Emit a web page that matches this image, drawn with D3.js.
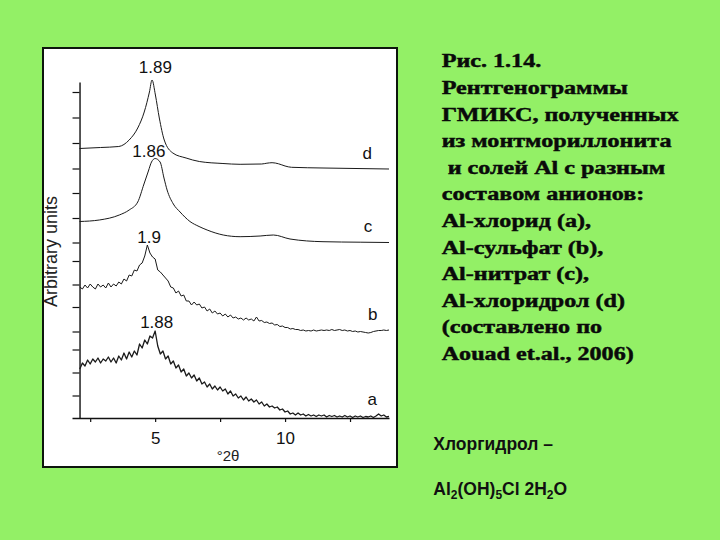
<!DOCTYPE html>
<html><head><meta charset="utf-8">
<script src="https://cdn.jsdelivr.net/npm/d3@7"></script>
<style>html,body{margin:0;padding:0;background:#93F066;} svg{display:block}</style>
</head><body>
<svg id="c" width="720" height="540"></svg>
<script>
// ---- data ----
const scanTheta = [
 2.1,2.2,2.3,2.4,2.5,2.6,2.7,2.8,2.9,3.0,
 3.1,3.2,3.3,3.4,3.5,3.6,3.7,3.8,3.9,4.0,
 4.1,4.2,4.3,4.4,4.5,4.6,4.7,4.8,4.9,5.0,
 5.1,5.2,5.3,5.4,5.5,5.6,5.7,5.8,5.9,6.0,
 6.1,6.2,6.3,6.4,6.5,6.6,6.7,6.8,6.9,7.0,
 7.1,7.2,7.3,7.4,7.5,7.6,7.7,7.8,7.9,8.0,
 8.1,8.2,8.3,8.4,8.5,8.6,8.7,8.8,8.9,9.0,
 9.1,9.2,9.3,9.4,9.5,9.6,9.7,9.8,9.9,10.0,
 10.1,10.2,10.3,10.4,10.5,10.6,10.7,10.8,10.9,11.0,
 11.1,11.2,11.3,11.4,11.5,11.6,11.7,11.8,11.9,12.0,
 12.1,12.2,12.3,12.4,12.5,12.6,12.7,12.8,12.9,13.0,
 13.1,13.2,13.3,13.4,13.5,13.6,13.7,13.8,13.9,14.0];
const seriesA = [
 49,55,52,58,54,59,56,60,55,59,
 57,61,56,60,55,62,58,65,59,66,
 61,67,63,74,70,78,74,82,80,87,
 72,64,67,59,62,54,57,50,53,46,
 49,42,45,40,43,37,40,34,36,31,
 34,29,32,28,31,27,29,24,27,22,
 24,20,22,18,21,17,19,16,18,14,
 16,12,14,11,12,10,11,8,9,6,
 7,4,5,3,5,3,4,2,3.5,2,
 3,1.5,3,2,3,1,2.5,1.5,2.5,1,
 2,1,2.5,1,2,0.5,2,1,2,0.5,
 1.5,1,2,0.5,2,4,2,3,1,1.5];
const seriesB = [
 131,129,133,130,134,131,129,134,131,133,
 130,135,131,134,132,136,134,139,137,143,
 142,148,147,153,155,162,173,165,161,159,
 148,146,143,140,137,131,130,125,127,122,
 123,117,117,113,116,113,114,110,111,107,
 109,105,107,104,105,102,104,101,103,100,
 101,99,100,98,100,98,99,97,101,97,
 97.5,95.5,96,94.5,95,93,93.5,91.5,92,90.5,
 90.5,89,89.5,88.5,88.5,87.5,88,87,87.5,87,
 88,87,87.5,88,87.5,88,87.5,88.5,87.5,88,
 88.5,87.5,88,87,87.5,86.5,87,86,86.5,86,
 85.5,85,85.5,86.5,87,87.5,87.5,88,87.5,88];
const thetaC = [2.09,2.85,3.62,4.0,4.33,4.57,4.74,4.86,5.0,5.19,5.34,5.46,5.7,5.96,6.34,6.69,7.0,7.62,8.27,9.04,9.55,10.19,11.46,12.89,14.0];
const seriesC = [196.5,198,203,208,216,234,247,256,259.5,256,240,228,214,206,196.5,191.5,188,183,181.3,182,183,179,176.3,175.8,175.5];
const thetaD = [2.09,2.9,3.6,4.0,4.33,4.58,4.78,4.88,5.01,5.16,5.35,5.68,6.19,6.7,7.61,8.27,9.1,9.3,9.5,9.75,10.0,10.25,11.46,14.0];
const seriesD = [269.5,270.5,271.5,278,290,306,326,338,323,300,278,265,260,256.5,254.5,253.7,254,254.8,255.3,254.2,252,250.7,250,249];

const curveLabels = ["a","b","c","d"];
const curveLabelTheta = [13.35,13.37,13.19,13.16];
const curveLabelValue = [13,98,186.3,259];
const peakLabels = ["1.88","1.9","1.86","1.89"];
const peakLabelTheta = [5.06,4.77,4.76,5.01];
const peakLabelValue = [89.7,174.7,260.7,344.7];
const xTickValues = [2.5,5,7.5,10,12.5];
const xTickLabels = ["","5","","10",""];
const yTickValues = [326,300.5,275,249.5,225,200,175.5,157,133.5,111,86.5,68.5,45.5,22.5];
const xTitle = "°2θ";
const yTitle = "Arbitrary units";
const captionLines = [
 "Рис. 1.14.",
 "Рентгенограммы",
 "ГМИКС, полученных",
 "из монтмориллонита",
 " и солей Al с разным",
 "составом анионов:",
 "Al-хлорид (а),",
 "Al-сульфат (b),",
 "Al-нитрат (с),",
 "Al-хлоридрол (d)",
 "(составлено по",
 "Aouad et.al., 2006)"];
const noteLine = "Хлоргидрол –";

// ---- drawing ----
const svg = d3.select("#c");
svg.append("rect").attr("width",720).attr("height",540).attr("fill","#93F066");
svg.append("rect").attr("x",43).attr("y",48).attr("width",354).attr("height",419)
  .attr("fill","#fff").attr("stroke","#0d160d").attr("stroke-width",2);

const x = d3.scaleLinear().domain([1.8,14]).range([72,389]);
const y = d3.scaleLinear().domain([0,336]).range([418,82]);
const yAxisTheta = 2.09;

const gx = svg.append("g").attr("transform",`translate(0,${y(0)})`)
  .call(d3.axisBottom(x).tickValues(xTickValues).tickSize(4).tickSizeOuter(0)
    .tickFormat((d,i)=>xTickLabels[i]));
gx.select(".domain").attr("stroke","#111").attr("stroke-width",1.4);
gx.selectAll(".tick line").attr("stroke","#111").attr("stroke-width",1.2);
gx.selectAll(".tick text").attr("y",26).attr("dy",0).attr("font-family","Liberation Sans, Arial, sans-serif")
  .attr("font-size",17).attr("fill","#111");

const gy = svg.append("g").attr("transform",`translate(${x(yAxisTheta)},0)`)
  .call(d3.axisLeft(y).tickValues(yTickValues).tickSize(7).tickSizeOuter(0).tickFormat(""));
gy.select(".domain").attr("stroke","#111").attr("stroke-width",1.4);
gy.selectAll(".tick line").attr("stroke","#111").attr("stroke-width",1.2);

svg.append("text").attr("x",228).attr("y",461).attr("text-anchor","middle")
  .attr("font-family","Liberation Sans, Arial, sans-serif").attr("font-size",15).attr("fill","#222").text(xTitle);
svg.append("text").attr("transform","translate(57,251.5) rotate(-90)").attr("text-anchor","middle")
  .attr("font-family","Liberation Sans, Arial, sans-serif").attr("font-size",18).attr("fill","#222").text(yTitle);

const line = d3.line().x(d=>x(d[0])).y(d=>y(d[1]));
const smooth = d3.line().x(d=>x(d[0])).y(d=>y(d[1])).curve(d3.curveMonotoneX);
const series = [
  {pts: scanTheta.map((t,i)=>[t,seriesA[i]]), gen: line, w:1.3},
  {pts: scanTheta.map((t,i)=>[t,seriesB[i]]), gen: line, w:1},
  {pts: thetaC.map((t,i)=>[t,seriesC[i]]), gen: smooth, w:1},
  {pts: thetaD.map((t,i)=>[t,seriesD[i]]), gen: smooth, w:1}
];
series.forEach(s=>{
  svg.append("path").attr("d",s.gen(s.pts)).attr("fill","none")
    .attr("stroke","#1a1a1a").attr("stroke-width",s.w).attr("stroke-linejoin","round");
});

svg.selectAll("text.cl").data(curveLabels).join("text").attr("class","cl")
  .attr("x",(d,i)=>x(curveLabelTheta[i])).attr("y",(d,i)=>y(curveLabelValue[i]))
  .attr("text-anchor","middle").attr("font-family","Liberation Sans, Arial, sans-serif")
  .attr("font-size",17).attr("fill","#111").text(d=>d);
svg.selectAll("text.pl").data(peakLabels).join("text").attr("class","pl")
  .attr("x",(d,i)=>x(peakLabelTheta[i])).attr("y",(d,i)=>y(peakLabelValue[i]))
  .attr("text-anchor","middle").attr("font-family","Liberation Sans, Arial, sans-serif")
  .attr("font-size",17).attr("fill","#111").text(d=>d);

// caption
const cap = svg.append("g");
const capText = cap.selectAll("text").data(captionLines).join("text")
  .attr("x",0).attr("y",(d,i)=>67.5+i*26.6)
  .attr("font-family","Liberation Serif, Times New Roman, serif").attr("font-weight","bold")
  .attr("font-size",18.5).attr("fill","#0a0a0a").attr("stroke","#0a0a0a").attr("stroke-width",0.45)
  .style("white-space","pre").text(d=>d);
const w3 = capText.nodes()[2].getComputedTextLength();
const sx = 237 / w3;
cap.attr("transform",`translate(441.7,0) scale(${sx},1)`);

svg.append("text").attr("x",433.3).attr("y",450)
  .attr("font-family","Liberation Sans, Arial, sans-serif").attr("font-weight","bold")
  .attr("font-size",17.5).attr("fill","#111").text(noteLine);
const f = svg.append("text").attr("x",433.3).attr("y",495)
  .attr("font-family","Liberation Sans, Arial, sans-serif").attr("font-weight","bold")
  .attr("font-size",17.5).attr("fill","#111");
[["Al",0],["2",1],["(OH)",0],["5",1],["Cl 2H",0],["2",1],["O",0]].forEach(([t,s])=>{
  const ts = f.append("tspan").text(t);
  if(s){ ts.attr("font-size",12).attr("dy",4); }
  else if (f.selectAll("tspan").size()>1) { ts.attr("dy",-4); }
});
</script>
</body></html>
